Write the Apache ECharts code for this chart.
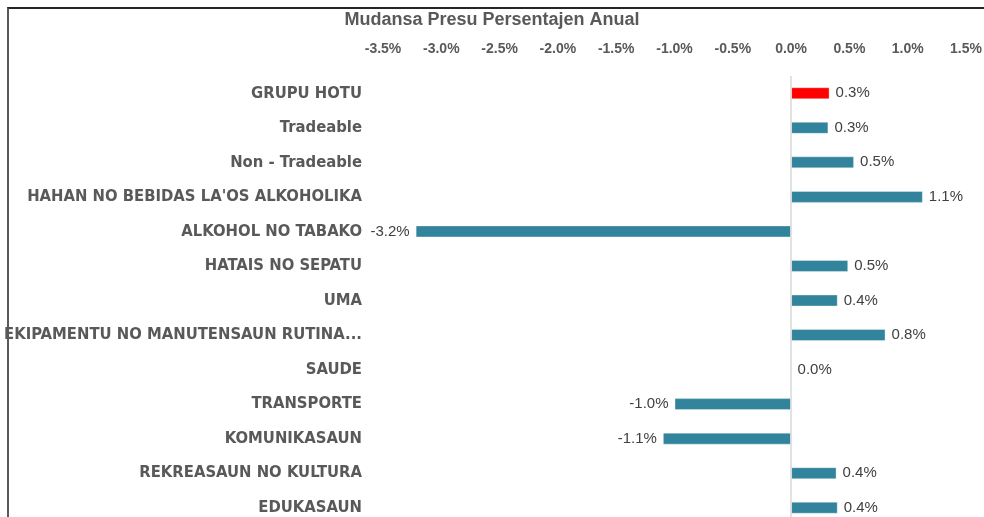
<!DOCTYPE html>
<html>
<head>
<meta charset="utf-8">
<script src="https://cdn.jsdelivr.net/npm/echarts@6/dist/echarts.min.js"></script>
<style>
    html, body {margin: 0; padding: 0; background: #fff; overflow: hidden;}
    #frame {position: absolute; left: 7px; top: 7px; width: 990px; height: 520px;
        border-left: 2px solid #595959; border-top: 2px solid #262626;}
    #main {position: absolute; left: 0; top: 0; width: 984px; height: 517px;}
</style>
</head>
<body>
<div id="frame"></div>
<div id="main"></div>
<script>
// categories (top to bottom)
var categories = [
    'GRUPU HOTU',
    'Tradeable',
    'Non - Tradeable',
    'HAHAN NO BEBIDAS LA\'OS ALKOHOLIKA',
    'ALKOHOL NO TABAKO',
    'HATAIS NO SEPATU',
    'UMA',
    'EKIPAMENTU NO MANUTENSAUN RUTINA...',
    'SAUDE',
    'TRANSPORTE',
    'KOMUNIKASAUN',
    'REKREASAUN NO KULTURA',
    'EDUKASAUN'
];
// annual price change, percent
var values = [0.33, 0.32, 0.54, 1.13, -3.22, 0.49, 0.40, 0.81, 0.0, -1.0, -1.1, 0.39, 0.40];
// axis ticks
var xMin = -3.5, xMax = 1.5, xStep = 0.5;

var teal = '#31849b';
var red = '#ff0000';

(function () {
    var myChart = echarts.init(document.getElementById('main'));

    var barData = values.map(function (v, i) {
        return {
            value: v,
            itemStyle: {color: i === 0 ? red : teal},
            label: {position: v < 0 ? 'left' : 'right'}
        };
    });

    myChart.setOption({
        animation: false,
        title: {
            text: 'Mudansa Presu Persentajen Anual',
            left: 'center',
            top: 6,
            textStyle: {
                fontFamily: 'Liberation Sans', fontSize: 18, fontWeight: 'bold', color: '#595959'
            }
        },
        grid: {left: 383, right: 18, top: 76, height: 449, containLabel: false, outerBoundsMode: 'none'},
        xAxis: {
            type: 'value',
            position: 'top',
            min: xMin,
            max: xMax,
            interval: xStep,
            axisLine: {show: false},
            axisTick: {show: false},
            splitLine: {show: false},
            axisLabel: {
                margin: 20,
                fontFamily: 'Liberation Sans', fontSize: 14, fontWeight: 'bold', color: '#595959',
                formatter: function (v) { return v.toFixed(1) + '%'; }
            }
        },
        yAxis: {
            type: 'category',
            inverse: true,
            data: categories,
            axisLine: {show: false},
            axisTick: {show: false},
            axisLabel: {
                margin: 21,
                fontFamily: 'DejaVu Sans Condensed, sans-serif',
                fontSize: 16.5, fontWeight: 'bold', color: '#595959'
            }
        },
        series: [{
            type: 'bar',
            barWidth: 12,
            data: barData,
            itemStyle: {borderColor: 'rgba(255,255,255,0.35)', borderWidth: 1},
            label: {
                show: true,
                distance: 6,
                fontFamily: 'Liberation Sans', fontSize: 15, color: '#404040',
                formatter: function (p) { return p.value.toFixed(1) + '%'; }
            },
            markLine: {
                silent: true,
                symbol: 'none',
                label: {show: false},
                lineStyle: {color: '#d9d9d9', type: 'solid', width: 1.5},
                data: [{xAxis: 0}]
            }
        }]
    });
})();
</script>
</body>
</html>
